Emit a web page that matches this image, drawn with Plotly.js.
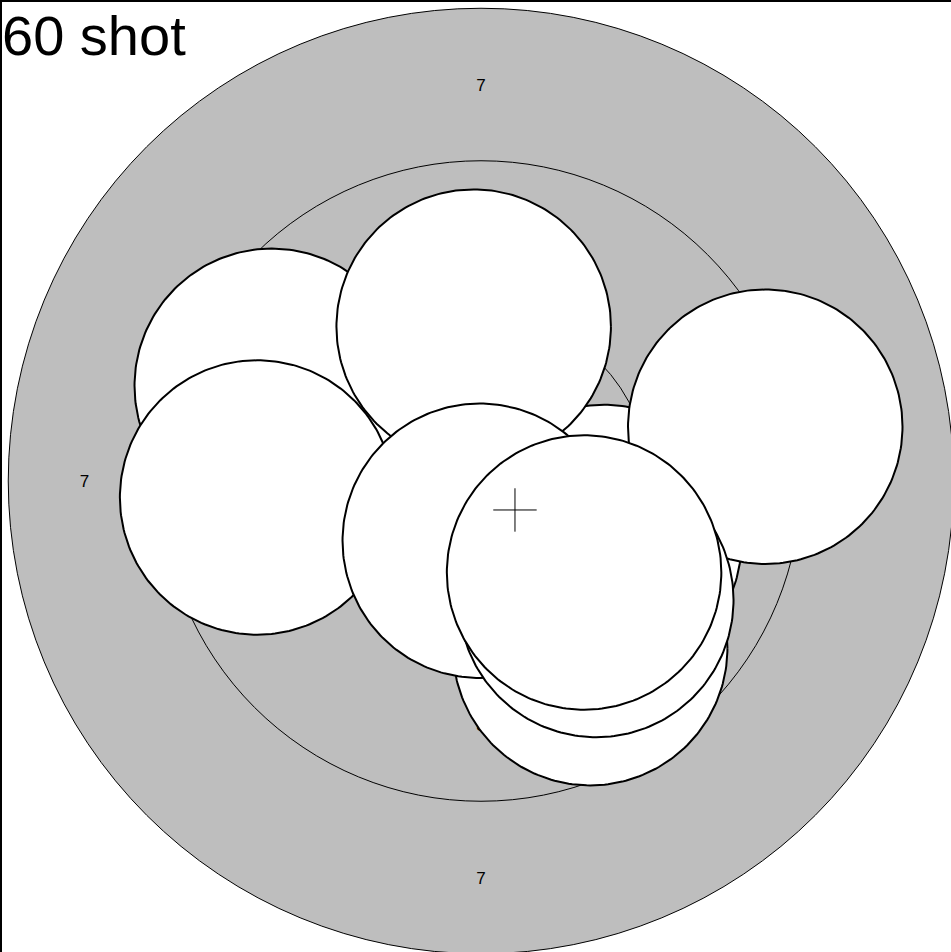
<!DOCTYPE html>
<html>
<head>
<meta charset="utf-8">
<script src="https://cdn.plot.ly/plotly-3.0.1.min.js"></script>
<style>
html,body{margin:0;padding:0;overflow:hidden;background:#fff;}
#chart{width:964px;height:964px;}
</style>
</head>
<body>
<div id="chart"></div>
<script>
// Target rings (ISSF 10m air rifle, radii in mm)
const ringNames = ['7', '8', '9', '10'];
const ringRadii = [7.75, 5.25, 2.75, 0.25];
// Shot centres (mm, relative to target centre), in drawing order
const shotX = [-3.43, -3.67, 2.02, 1.79, -0.12, 4.66, -0.02, 1.89, 1.69];
const shotY = [1.56, -0.27, -1.00, -2.74, 2.53, 0.89, -0.98, -1.95, -1.50];
const calibre = 4.5; // mm
// Group centre
const centreX = [0.557];
const centreY = [-0.475];
const titleText = '60 shot';

const traces = [];
// ring labels (top, left, right, bottom) at mid-ring radius
const lx = [], ly = [], lt = [];
for (let i = 0; i < ringRadii.length - 2; i++) {
  const r = (ringRadii[i] + ringRadii[i + 1]) / 2;
  [[0, r], [-r, 0], [r, 0], [0, -r]].forEach(p => { lx.push(p[0]); ly.push(p[1]); lt.push(ringNames[i]); });
}
traces.push({type: 'scatter', mode: 'text', x: lx.map(v => v), y: ly.map(v => v - 0.03), text: lt, hoverinfo: 'skip',
  textfont: {family: 'Liberation Sans, Arial, sans-serif', size: 17, color: '#000'}, showlegend: false});

// shots as filled circles
const rs = calibre / 2;
for (let i = 0; i < shotX.length; i++) {
  const px = [], py = [];
  for (let k = 0; k <= 240; k++) {
    const a = 2 * Math.PI * k / 240;
    px.push(shotX[i] + rs * Math.cos(a));
    py.push(shotY[i] + rs * Math.sin(a));
  }
  traces.push({type: 'scatter', mode: 'lines', x: px, y: py, fill: 'toself', fillcolor: '#ffffff',
    line: {color: '#000', width: 2}, hoverinfo: 'skip', showlegend: false});
}
// group centre cross
traces.push({type: 'scatter', mode: 'markers', x: centreX, y: centreY, hoverinfo: 'skip',
  marker: {symbol: 'cross-thin', size: 31, line: {color: '#000', width: 1}}, showlegend: false});

const shapes = ringRadii.map((r, i) => ({
  type: 'circle', xref: 'x', yref: 'y', layer: 'below',
  x0: -r, x1: r, y0: -r, y1: r,
  fillcolor: i === 0 ? '#bebebe' : 'rgba(0,0,0,0)',
  line: {color: '#000', width: 1}
}));

const pxPerMm = 61;
const layout = {
  width: 964, height: 964,
  margin: {l: 2, r: 2, t: 2, b: 2, pad: 0},
  paper_bgcolor: '#fff', plot_bgcolor: '#fff',
  showlegend: false,
  xaxis: {range: [-479 / pxPerMm, 481 / pxPerMm], showgrid: false, zeroline: false, showticklabels: false,
    ticks: '', showline: true, mirror: true, linecolor: '#000', linewidth: 2, fixedrange: true},
  yaxis: {range: [-481 / pxPerMm, 479 / pxPerMm], showgrid: false, zeroline: false, showticklabels: false,
    ticks: '', showline: true, mirror: true, linecolor: '#000', linewidth: 2, fixedrange: true},
  shapes: shapes,
  annotations: [{text: titleText, xref: 'paper', yref: 'paper', x: 0, y: 1, xanchor: 'left', yanchor: 'top',
    showarrow: false, xshift: -2, yshift: 0, font: {family: 'Liberation Sans, Arial, sans-serif', size: 56, color: '#000'}}]
};
Plotly.newPlot('chart', traces, layout, {staticPlot: true, displayModeBar: false});
</script>
</body>
</html>
